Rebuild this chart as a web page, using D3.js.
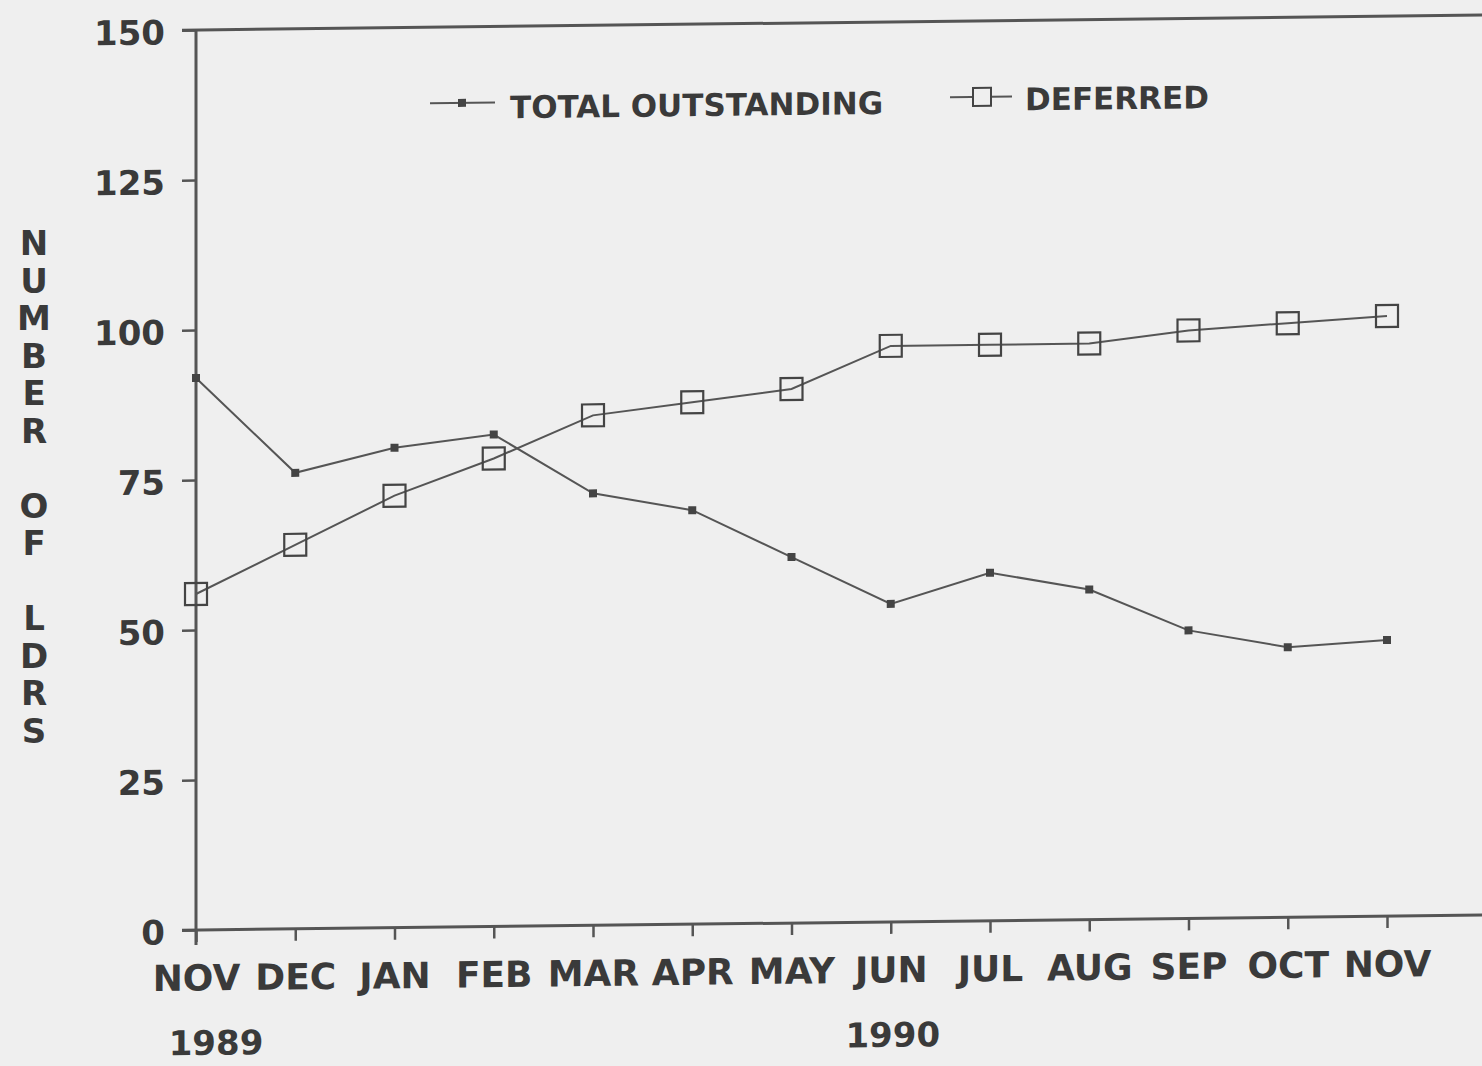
<!DOCTYPE html>
<html>
<head>
<meta charset="utf-8">
<script src="https://cdn.jsdelivr.net/npm/d3@7"></script>
<style>
  body { margin: 0; background: #efefef; }
  svg { display: block; }
  text { font-family: "DejaVu Sans", "Liberation Sans", sans-serif; font-weight: bold; fill: #3a3a3a; }
</style>
</head>
<body>
<svg width="1482" height="1066"></svg>
<script>
var months = ["NOV", "DEC", "JAN", "FEB", "MAR", "APR", "MAY", "JUN", "JUL", "AUG", "SEP", "OCT", "NOV"];
var totalOutstanding = [92, 76, 80, 82, 72, 69, 61, 53, 58, 55, 48, 45, 46];
var deferred = [56, 64, 72, 78, 85, 87, 89, 96, 96, 96, 98, 99, 100];
var yTicks = [0, 25, 50, 75, 100, 125, 150];
var yearLabels = ["1989", "1990"];
var yearIndex = [0, 7];
var yTitle = "NUMBER OF LDRS";

var svg = d3.select("svg"),
    ink = "#555";

var x = d3.scaleLinear().domain([0, months.length - 1]).range([196, 1387]),
    y = d3.scaleLinear().domain([0, 150]).range([930, 30]);

// the scanned page is slightly sheared, follow it
var g = svg.append("g")
    .attr("transform", "translate(196,930) skewY(-0.67) translate(-196,-930)");

// frame lines
g.append("line")
    .attr("x1", 182).attr("x2", 1482)
    .attr("y1", y(150)).attr("y2", y(150))
    .attr("stroke", ink).attr("stroke-width", 3);
g.append("line")
    .attr("x1", 182).attr("x2", 1482)
    .attr("y1", y(0)).attr("y2", y(0))
    .attr("stroke", ink).attr("stroke-width", 3);
g.append("line")
    .attr("x1", x(0)).attr("x2", x(0))
    .attr("y1", y(150)).attr("y2", y(0) + 15)
    .attr("stroke", ink).attr("stroke-width", 3);

// y axis
var yAxis = g.append("g")
    .attr("transform", "translate(" + x(0) + ",0)")
    .call(d3.axisLeft(y).tickValues(yTicks).tickSize(14).tickPadding(17));
yAxis.select(".domain").remove();
yAxis.selectAll("line").attr("stroke", ink).attr("stroke-width", 2.5);
yAxis.selectAll("text")
    .attr("fill", "#3a3a3a")
    .attr("dy", "0.4em")
    .style("font-size", "34px")
    .style("font-family", null);

// x axis
var xAxis = g.append("g")
    .attr("transform", "translate(0," + y(0) + ")")
    .call(d3.axisBottom(x)
        .tickValues(d3.range(months.length))
        .tickFormat(function(i) { return months[i]; })
        .tickSize(12).tickPadding(23));
xAxis.select(".domain").remove();
xAxis.selectAll("line").attr("stroke", ink).attr("stroke-width", 2.5);
xAxis.selectAll("text")
    .attr("fill", "#3a3a3a")
    .style("font-size", "36px")
    .style("font-family", null);

g.selectAll(".year")
    .data(yearLabels)
  .enter().append("text")
    .attr("class", "year")
    .attr("x", function(d, i) { return x(yearIndex[i]) + (i === 0 ? 20 : 2); })
    .attr("y", 1055)
    .attr("text-anchor", "middle")
    .style("font-size", "34px")
    .text(function(d) { return d; });

// y title, stacked letters
svg.append("g").selectAll("text")
    .data(yTitle.split(""))
  .enter().append("text")
    .attr("x", 34)
    .attr("y", function(d, i) { return 255 + i * 37.5; })
    .attr("text-anchor", "middle")
    .style("font-size", "34px")
    .text(function(d) { return d; });

// series
var line = function(vals) {
  return d3.line()
      .x(function(d, i) { return x(i); })
      .y(function(d) { return y(d); })(vals);
};

g.append("path")
    .attr("d", line(totalOutstanding))
    .attr("fill", "none").attr("stroke", ink).attr("stroke-width", 2);
g.append("path")
    .attr("d", line(deferred))
    .attr("fill", "none").attr("stroke", ink).attr("stroke-width", 2);

g.selectAll(".dot")
    .data(totalOutstanding)
  .enter().append("rect")
    .attr("class", "dot")
    .attr("x", function(d, i) { return x(i) - 4; })
    .attr("y", function(d) { return y(d) - 4; })
    .attr("width", 8).attr("height", 8)
    .attr("fill", "#444");

g.selectAll(".box")
    .data(deferred)
  .enter().append("rect")
    .attr("class", "box")
    .attr("x", function(d, i) { return x(i) - 11; })
    .attr("y", function(d) { return y(d) - 11; })
    .attr("width", 22).attr("height", 22)
    .attr("fill", "none").attr("stroke", "#444").attr("stroke-width", 2.2);

// legend
var legend = g.append("g");
legend.append("line")
    .attr("x1", 430).attr("x2", 495).attr("y1", 106).attr("y2", 106)
    .attr("stroke", ink).attr("stroke-width", 2);
legend.append("rect")
    .attr("x", 458).attr("y", 102).attr("width", 8).attr("height", 8)
    .attr("fill", "#444");
legend.append("text")
    .attr("x", 510).attr("y", 122)
    .style("font-size", "31px")
    .text("TOTAL OUTSTANDING");
legend.append("line")
    .attr("x1", 950).attr("x2", 1012).attr("y1", 106).attr("y2", 106)
    .attr("stroke", ink).attr("stroke-width", 2);
legend.append("rect")
    .attr("x", 973).attr("y", 97).attr("width", 18).attr("height", 18)
    .attr("fill", "#efefef").attr("stroke", "#444").attr("stroke-width", 2);
legend.append("text")
    .attr("x", 1025).attr("y", 120)
    .style("font-size", "31px")
    .text("DEFERRED");
</script>
</body>
</html>
